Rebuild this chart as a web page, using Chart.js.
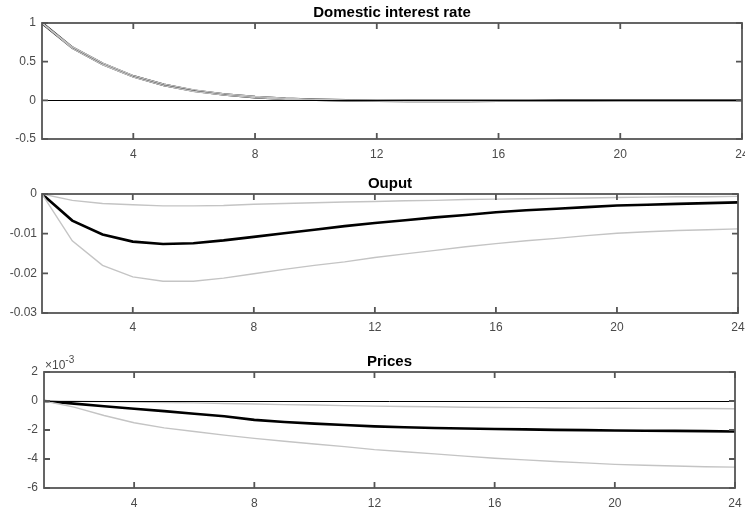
<!DOCTYPE html>
<html lang="en">
<head>
<meta charset="UTF-8">
<title>Impulse responses</title>
<script src="https://cdn.jsdelivr.net/npm/chart.js"></script>
<style>
    body {
        margin: 0;
        background: #ffffff;
        font-family: 'Liberation Sans', Arial, sans-serif;
    }
    .panel {
        position: absolute;
        left: 0;
        width: 745px;
    }
    canvas {
        display: block;
    }
</style>
</head>
<body>
<div class="panel" style="top:0px"><canvas id="rateChart" width="745" height="165"></canvas></div>
<div class="panel" style="top:165px"><canvas id="outputChart" width="745" height="170"></canvas></div>
<div class="panel" style="top:335px"><canvas id="pricesChart" width="745" height="176"></canvas></div>
<script>
// horizon (quarters) and axis ticks
const periods = [1, 2, 3, 4, 5, 6, 7, 8, 9, 10, 11, 12, 13, 14, 15, 16, 17, 18, 19, 20, 21, 22, 23, 24];
const xTicks = [4, 8, 12, 16, 20, 24];

// Domestic interest rate
const rateMean  = [1, 0.68, 0.47, 0.31, 0.20, 0.125, 0.075, 0.042, 0.02, 0.007, -0.001, -0.005, -0.007, -0.007, -0.007, -0.006, -0.005, -0.004, -0.004, -0.003, -0.003, -0.002, -0.002, -0.002];
const rateUpper = [1, 0.69, 0.48, 0.32, 0.21, 0.135, 0.083, 0.049, 0.026, 0.012, 0.004, 0.001, 0, 0, 0, 0, 0, 0, 0, 0, 0, 0, 0, 0];
const rateLower = [1, 0.67, 0.46, 0.30, 0.19, 0.115, 0.067, 0.035, 0.014, 0.002, -0.005, -0.009, -0.011, -0.011, -0.011, -0.01, -0.01, -0.009, -0.009, -0.009, -0.008, -0.008, -0.008, -0.008];
const rateTicks = [-0.5, 0, 0.5, 1];

// Output
const outputMean  = [0, -0.0067, -0.0102, -0.0120, -0.0126, -0.0124, -0.0117, -0.0108, -0.0099, -0.0090, -0.0081, -0.0073, -0.0066, -0.0059, -0.0053, -0.0046, -0.0041, -0.0037, -0.0033, -0.0029, -0.0027, -0.0025, -0.0023, -0.0021];
const outputUpper = [0, -0.0016, -0.0024, -0.0027, -0.0030, -0.0030, -0.0029, -0.0026, -0.0024, -0.0022, -0.0020, -0.0019, -0.0017, -0.0016, -0.0014, -0.0013, -0.0012, -0.0011, -0.0010, -0.0009, -0.0008, -0.0007, -0.0007, -0.0006];
const outputLower = [0, -0.0118, -0.0180, -0.0209, -0.0220, -0.0220, -0.0212, -0.0201, -0.0190, -0.0180, -0.0171, -0.0160, -0.0151, -0.0142, -0.0133, -0.0125, -0.0118, -0.0112, -0.0105, -0.0099, -0.0095, -0.0092, -0.0090, -0.0088];
const outputTicks = [-0.03, -0.02, -0.01, 0];

// Prices (in units of 10^-3)
const pricesMean  = [0, -0.18, -0.36, -0.53, -0.70, -0.88, -1.05, -1.30, -1.45, -1.56, -1.66, -1.75, -1.81, -1.86, -1.90, -1.93, -1.96, -1.99, -2.01, -2.03, -2.05, -2.06, -2.08, -2.10];
const pricesUpper = [0, -0.02, -0.04, -0.07, -0.10, -0.13, -0.17, -0.21, -0.25, -0.28, -0.32, -0.35, -0.38, -0.40, -0.43, -0.45, -0.46, -0.48, -0.49, -0.50, -0.51, -0.52, -0.52, -0.53];
const pricesLower = [0, -0.42, -1.00, -1.50, -1.85, -2.10, -2.35, -2.58, -2.78, -2.97, -3.15, -3.35, -3.50, -3.65, -3.80, -3.95, -4.06, -4.17, -4.27, -4.37, -4.43, -4.48, -4.53, -4.56];
const pricesTicks = [-6, -4, -2, 0, 2];

const FONT = "'Liberation Sans', Arial, sans-serif";
const TICK_COLOR = '#4a4a4a';

// matlab look: full box, inward tick marks, title over the axes,
// optional zero line and exponent label
const matlabFrame = {
    id: 'matlabFrame',
    afterDatasetsDraw(chart, args, opts) {
        const ctx = chart.ctx;
        const a = chart.chartArea;
        const xs = chart.scales.x;
        const ys = chart.scales.y;
        const tl = 6;
        ctx.save();
        if (opts.zeroLine) {
            const y0 = Math.round(ys.getPixelForValue(0)) + 0.5;
            ctx.strokeStyle = '#000';
            ctx.lineWidth = 1;
            ctx.beginPath();
            ctx.moveTo(a.left, y0);
            ctx.lineTo(a.right, y0);
            ctx.stroke();
        }
        ctx.strokeStyle = '#555';
        ctx.lineWidth = 1.8;
        ctx.strokeRect(a.left, a.top, a.right - a.left, a.bottom - a.top);
        ctx.beginPath();
        xs.ticks.forEach(t => {
            const px = xs.getPixelForValue(t.value);
            ctx.moveTo(px, a.bottom);
            ctx.lineTo(px, a.bottom - tl);
            ctx.moveTo(px, a.top);
            ctx.lineTo(px, a.top + tl);
        });
        ys.ticks.forEach(t => {
            const py = ys.getPixelForValue(t.value);
            ctx.moveTo(a.left, py);
            ctx.lineTo(a.left + tl, py);
            ctx.moveTo(a.right, py);
            ctx.lineTo(a.right - tl, py);
        });
        ctx.stroke();

        // title centred over the axes box
        ctx.fillStyle = '#000';
        ctx.font = 'bold 15px ' + FONT;
        ctx.textAlign = 'center';
        ctx.textBaseline = 'alphabetic';
        ctx.fillText(opts.title, (a.left + a.right) / 2, a.top - opts.titleGap);

        if (opts.exponent) {
            ctx.fillStyle = TICK_COLOR;
            ctx.textAlign = 'left';
            ctx.font = '12px ' + FONT;
            const base = '\u00d710';
            ctx.fillText(base, a.left + 1, a.top - 3);
            const w = ctx.measureText(base).width;
            ctx.font = '10px ' + FONT;
            ctx.fillText(opts.exponent, a.left + 1 + w, a.top - 9);
        }
        ctx.restore();
    }
};

function makePanel(id, cfg) {
    const canvas = document.getElementById(id);
    const ctx = canvas.getContext('2d');
    const line = (data, color, width) => ({
        data: data,
        borderColor: color,
        borderWidth: width,
        pointRadius: 0,
        tension: 0,
        fill: false
    });
    return new Chart(ctx, {
        type: 'line',
        data: {
            labels: periods,
            datasets: [
                line(cfg.upper, '#c4c4c4', 1.4),
                line(cfg.lower, '#c4c4c4', 1.4),
                line(cfg.mean, '#000000', 2.6)
            ]
        },
        options: {
            responsive: false,
            animation: false,
            layout: {
                padding: { left: 0, right: 745 - cfg.right, top: cfg.top, bottom: 0 }
            },
            plugins: {
                legend: { display: false },
                tooltip: { enabled: false },
                title: { display: false },
                matlabFrame: {
                    title: cfg.title,
                    titleGap: cfg.titleGap,
                    zeroLine: cfg.zeroLine,
                    exponent: cfg.exponent
                }
            },
            scales: {
                x: {
                    type: 'linear',
                    min: 1,
                    max: 24,
                    grid: { display: false, drawTicks: false },
                    border: { display: false },
                    ticks: {
                        color: TICK_COLOR,
                        font: { family: FONT, size: 12 },
                        padding: cfg.xPad,
                        maxRotation: 0,
                        callback: v => String(v)
                    },
                    afterBuildTicks: s => { s.ticks = xTicks.map(v => ({ value: v })); },
                    afterFit: s => {
                        s.height = canvas.height - cfg.bottom;
                        s.paddingLeft = 0;
                        s.paddingRight = 0;
                    }
                },
                y: {
                    min: cfg.ticks[0],
                    max: cfg.ticks[cfg.ticks.length - 1],
                    grid: { display: false, drawTicks: false },
                    border: { display: false },
                    ticks: {
                        color: TICK_COLOR,
                        font: { family: FONT, size: 12 },
                        padding: cfg.yPad,
                        callback: v => String(v)
                    },
                    afterBuildTicks: s => { s.ticks = cfg.ticks.map(v => ({ value: v })); },
                    afterFit: s => {
                        s.width = cfg.left;
                        s.paddingTop = 0;
                        s.paddingBottom = 0;
                    }
                }
            }
        },
        plugins: [matlabFrame]
    });
}

makePanel('rateChart', {
    title: 'Domestic interest rate',
    mean: rateMean, upper: rateUpper, lower: rateLower, ticks: rateTicks,
    left: 42, right: 742, top: 23, bottom: 139, titleGap: 6,
    xPad: 8, yPad: 6, zeroLine: true
});

makePanel('outputChart', {
    title: 'Ouput',
    mean: outputMean, upper: outputUpper, lower: outputLower, ticks: outputTicks,
    left: 42, right: 738, top: 29, bottom: 148, titleGap: 6,
    xPad: 7, yPad: 5, zeroLine: false
});

makePanel('pricesChart', {
    title: 'Prices',
    mean: pricesMean, upper: pricesUpper, lower: pricesLower, ticks: pricesTicks,
    left: 44, right: 735, top: 37, bottom: 153, titleGap: 6,
    xPad: 8, yPad: 6, zeroLine: true, exponent: '-3'
});
</script>
</body>
</html>
